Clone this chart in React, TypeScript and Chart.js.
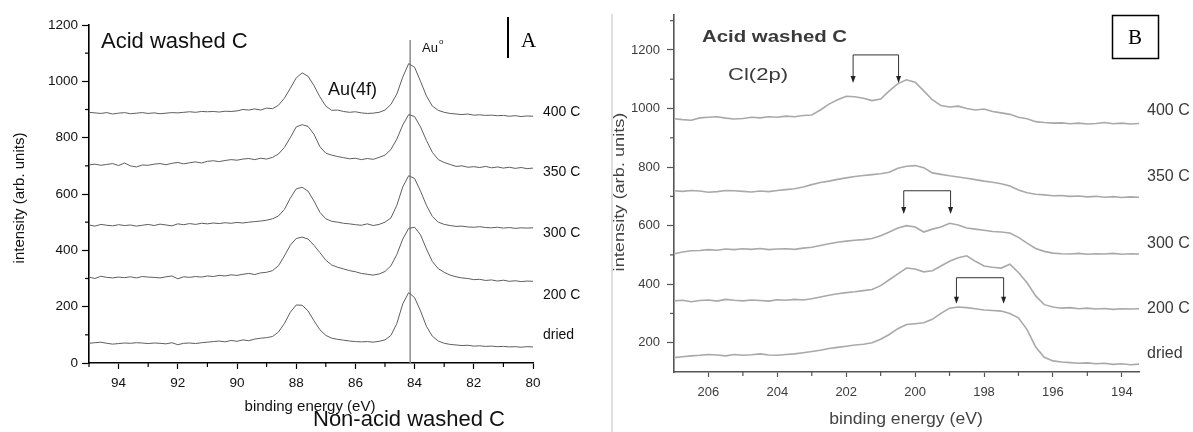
import React, { useEffect, useRef } from "react";
import { Chart, registerables } from "chart.js";

Chart.register(...registerables);

const SANS = '"Liberation Sans", Arial, sans-serif';
const SERIF = '"Liberation Serif", "Times New Roman", serif';

// ---------------- Panel A : Au(4f) ----------------
const energyA = [
  95, 94.8, 94.6, 94.4, 94.2, 94, 93.8, 93.6, 93.4, 93.2,
  93, 92.8, 92.6, 92.4, 92.2, 92, 91.8, 91.6, 91.4, 91.2,
  91, 90.8, 90.6, 90.4, 90.2, 90, 89.8, 89.6, 89.4, 89.2,
  89, 88.8, 88.6, 88.4, 88.2, 88, 87.8, 87.6, 87.4, 87.2,
  87, 86.8, 86.6, 86.4, 86.2, 86, 85.8, 85.6, 85.4, 85.2,
  85, 84.8, 84.6, 84.4, 84.2, 84, 83.8, 83.6, 83.4, 83.2,
  83, 82.8, 82.6, 82.4, 82.2, 82, 81.8, 81.6, 81.4, 81.2,
  81, 80.8, 80.6, 80.4, 80.2, 80,
];
const au400 = [
  890, 888, 886, 889, 884, 887, 889, 885, 887, 889,
  886, 888, 885, 887, 889, 888, 890, 892, 890, 893,
  892, 893, 891, 894, 893, 895, 900, 898, 902, 898,
  905, 903, 915, 940, 975, 1012, 1030, 1018, 985, 945,
  912, 897, 898, 893, 890, 892, 888, 886, 887, 890,
  898, 918, 955, 1015, 1063, 1050, 1000, 948, 912, 897,
  890, 886, 884, 882, 884, 880, 881, 879, 880, 878,
  879, 876, 878, 875, 877, 876,
];
const au350 = [
  703, 706, 702, 705, 708, 701, 710, 700, 696, 703,
  702, 706, 708, 704, 709, 712, 707, 711, 714, 710,
  716, 718, 715, 719, 722, 720, 724, 726, 722, 727,
  724, 730, 742, 765, 800, 838, 846, 840, 812, 768,
  745, 738, 733, 729, 725, 727, 722, 726, 723, 730,
  738, 758, 795, 845, 882, 875, 838, 790, 748, 722,
  712, 705, 698, 700, 695, 697, 694, 698, 693, 696,
  692, 695, 691, 694, 690, 692,
];
const au300 = [
  490, 486, 492, 489, 487, 491, 488, 490, 486, 489,
  492, 488, 493, 490, 487, 494, 491, 495, 492, 496,
  494, 497, 495, 498, 496, 499, 497, 500, 502, 504,
  507, 512, 522, 545, 585, 618, 624, 610, 575, 535,
  512, 503, 500, 496, 494, 491, 489, 494, 488, 492,
  500, 515, 560, 625, 665, 655, 610, 560, 520, 500,
  492, 488, 485, 486, 483, 482, 484, 481, 480, 482,
  479, 481, 478, 480, 479, 480,
];
const au200 = [
  305, 300, 308, 304, 302, 305, 303, 306, 302, 307,
  305, 304, 302, 306, 309, 299, 306, 304, 307, 305,
  309, 307, 311, 309, 313, 311, 315, 318, 314, 320,
  322, 328, 345, 380, 418, 442, 447, 440, 418, 392,
  365, 348, 340, 334, 328, 324, 318, 315, 312, 316,
  325, 345, 385, 440, 478, 482, 455, 405, 360, 335,
  322, 312, 306, 302, 300, 296, 297, 293, 295, 291,
  294, 290, 292, 289, 291, 290,
];
const auDried = [
  70, 72, 74, 70, 67, 69, 71, 70, 72, 71,
  69, 71, 70, 68, 72, 65, 70, 71, 69, 72,
  74, 76, 78, 75, 80, 77, 82, 79, 85, 88,
  90, 94, 110, 140, 180, 206, 205, 185, 150, 118,
  98, 88, 84, 81, 78, 76, 75, 76, 74, 77,
  82, 98, 140, 210, 250, 232, 185, 130, 95, 78,
  70, 66, 64, 62, 63, 60, 61, 59, 60, 58,
  59, 57, 58, 56, 58, 57,
];
const seriesNamesA = ["400 C", "350 C", "300 C", "200 C", "dried"];
const seriesLevelsA = [891, 678, 461, 241, 99];
const yTicksA = [0, 200, 400, 600, 800, 1000, 1200];
const yMinorA = [100, 300, 500, 700, 900, 1100];
const xTicksA = [94, 92, 90, 88, 86, 84, 82, 80];
const xMinorA = [95, 93, 91, 89, 87, 85, 83, 81];
const auRefEnergy = 84.15;
const auRefTop = 1147;

// ---------------- Panel B : Cl(2p) ----------------
const energyB = [
  207, 206.75, 206.5, 206.25, 206, 205.75, 205.5, 205.25, 205, 204.75,
  204.5, 204.25, 204, 203.75, 203.5, 203.25, 203, 202.75, 202.5, 202.25,
  202, 201.75, 201.5, 201.25, 201, 200.75, 200.5, 200.25, 200, 199.75,
  199.5, 199.25, 199, 198.75, 198.5, 198.25, 198, 197.75, 197.5, 197.25,
  197, 196.75, 196.5, 196.25, 196, 195.75, 195.5, 195.25, 195, 194.75,
  194.5, 194.25, 194, 193.75, 193.5,
];
const cl400 = [
  965, 962, 960, 968, 970, 972, 967, 964, 966, 970,
  968, 972, 970, 974, 972, 976, 978, 995, 1015, 1030,
  1042, 1040, 1035, 1027, 1032, 1060, 1085, 1098, 1090, 1060,
  1030, 1010, 1005, 1008, 1000, 995, 998, 990, 985, 980,
  970, 965, 955, 952, 950, 951, 948, 950, 947, 949,
  952, 948, 950, 947, 949,
];
const cl350 = [
  719, 717, 720, 718, 714, 716, 720, 719, 717, 715,
  718, 716, 720, 723, 726, 732, 740, 747, 752, 758,
  763, 768, 771, 774, 777, 782, 796, 803, 805, 798,
  780, 775, 770, 766, 762, 757, 752, 748, 743, 735,
  722, 712, 707, 705, 702, 703, 700, 701, 698, 700,
  697, 699, 696, 698, 697,
];
const cl300 = [
  504, 510, 514, 515, 518, 516, 520, 518, 521, 519,
  522, 518, 520, 521, 519, 523, 526, 532, 538, 543,
  547, 550, 552, 556, 565, 578, 592, 600, 595, 578,
  588, 595, 608, 602, 592, 588, 584, 580, 578, 575,
  560, 540, 522, 512, 506, 504, 503, 505, 502, 504,
  503, 505, 502, 504, 503,
];
const cl200 = [
  343, 345, 340, 344, 346, 342, 348, 345, 343, 346,
  344, 342, 347, 345, 348, 346, 350, 356, 362, 367,
  371, 374, 378, 382, 395, 415, 435, 455, 452, 442,
  446, 462, 478, 490, 497, 478, 462, 458, 455, 468,
  440, 405, 360, 330, 322, 318, 320, 316, 318, 315,
  317, 314, 316, 315, 316,
];
const clDried = [
  149, 152, 155, 157, 160, 158, 155, 160, 157, 159,
  162, 158, 157, 160, 162, 166, 170, 174, 180, 184,
  188, 192, 195, 200, 212, 228, 248, 262, 265, 268,
  280, 300, 318, 322, 320, 316, 312, 310, 308, 300,
  285, 245, 185, 150, 138, 134, 132, 130, 131, 128,
  130, 126, 128, 125, 127,
];
const seriesNamesB = ["400 C", "350 C", "300 C", "200 C", "dried"];
const seriesLevelsB = [992, 767, 538, 316, 162];
const yTicksB = [200, 400, 600, 800, 1000, 1200];
const yMinorB = [300, 500, 700, 900, 1100, 1300];
const xTicksB = [206, 204, 202, 200, 198, 196, 194];
const xMinorB = [205, 203, 201, 199, 197, 195];
// doublet markers: [left energy, right energy, bracket level, arrow tip level]
const bracketLeftB = [201.8, 200.33, 198.8];
const bracketRightB = [200.48, 198.97, 197.43];
const bracketTopB = [1183, 719, 422];
const bracketTipB = [1087, 640, 333];

function pts(xs: number[], ys: number[]) {
  return xs.map((x, i) => ({ x, y: ys[i] }));
}

function txt(
  ctx: CanvasRenderingContext2D,
  s: string,
  x: number,
  y: number,
  font: string,
  color: string,
  align: CanvasTextAlign = "left",
  sx = 1,
  rot = 0
) {
  ctx.save();
  ctx.translate(x, y);
  if (rot) ctx.rotate(rot);
  ctx.scale(sx, 1);
  ctx.font = font;
  ctx.fillStyle = color;
  ctx.textAlign = align;
  ctx.textBaseline = "middle";
  ctx.fillText(s, 0, 0);
  ctx.restore();
}

function minorTicks(ctx: CanvasRenderingContext2D, chart: any, xs: number[], ys: number[], color: string, len: number) {
  const { x, y } = chart.scales;
  const ca = chart.chartArea;
  ctx.save();
  ctx.strokeStyle = color;
  ctx.lineWidth = 1.2;
  ys.forEach((v) => {
    const py = y.getPixelForValue(v);
    ctx.beginPath();
    ctx.moveTo(ca.left - len, py);
    ctx.lineTo(ca.left, py);
    ctx.stroke();
  });
  xs.forEach((v) => {
    const px = x.getPixelForValue(v);
    ctx.beginPath();
    ctx.moveTo(px, ca.bottom);
    ctx.lineTo(px, ca.bottom + len);
    ctx.stroke();
  });
  ctx.restore();
}

const annotA = {
  id: "annotA",
  beforeDatasetsDraw(chart: any) {
    const { ctx } = chart;
    const { x, y } = chart.scales;
    const px = x.getPixelForValue(auRefEnergy);
    ctx.save();
    ctx.strokeStyle = "#8c8c8c";
    ctx.lineWidth = 1.5;
    ctx.beginPath();
    ctx.moveTo(px, y.getPixelForValue(auRefTop));
    ctx.lineTo(px, chart.chartArea.bottom);
    ctx.stroke();
    ctx.restore();
  },
  afterDraw(chart: any) {
    const { ctx } = chart;
    const { y } = chart.scales;
    const ca = chart.chartArea;
    minorTicks(ctx, chart, xMinorA, yMinorA, "#000", 4);
    seriesNamesA.forEach((n, i) => {
      txt(ctx, n, ca.right + 10, y.getPixelForValue(seriesLevelsA[i]), `14px ${SANS}`, "#111");
    });
    txt(ctx, "Acid washed C", 101, 42, `22px ${SANS}`, "#111");
    txt(ctx, "Au(4f)", 328, 90, `18px ${SANS}`, "#111");
    txt(ctx, "Au", 422, 48, `13px ${SANS}`, "#111");
    txt(ctx, "o", 439, 42, `8px ${SANS}`, "#111");
    ctx.save();
    ctx.fillStyle = "#000";
    ctx.fillRect(507, 17, 2, 41);
    ctx.restore();
    txt(ctx, "A", 521, 41, `21px ${SERIF}`, "#000");
    txt(ctx, "intensity (arb. units)", 20, 198, `15px ${SANS}`, "#111", "center", 1, -Math.PI / 2);
    txt(ctx, "binding energy (eV)", 310, 407, `15px ${SANS}`, "#111", "center");
    txt(ctx, "Non-acid washed C", 313, 420, `22px ${SANS}`, "#111", "left");
  },
};

const annotB = {
  id: "annotB",
  afterDraw(chart: any) {
    const { ctx } = chart;
    const { x, y } = chart.scales;
    const ca = chart.chartArea;
    // left border of panel
    ctx.save();
    ctx.strokeStyle = "#d4d4d4";
    ctx.lineWidth = 1.5;
    ctx.beginPath();
    ctx.moveTo(22, 14);
    ctx.lineTo(22, 432);
    ctx.stroke();
    ctx.restore();
    minorTicks(ctx, chart, xMinorB, yMinorB, "#555", 4);
    // doublet brackets
    ctx.save();
    ctx.strokeStyle = "#333";
    ctx.fillStyle = "#222";
    ctx.lineWidth = 1;
    bracketLeftB.forEach((e1, i) => {
      const x1 = x.getPixelForValue(e1);
      const x2 = x.getPixelForValue(bracketRightB[i]);
      const yt = y.getPixelForValue(bracketTopB[i]);
      const yb = y.getPixelForValue(bracketTipB[i]);
      ctx.beginPath();
      ctx.moveTo(x1, yb - 5);
      ctx.lineTo(x1, yt);
      ctx.lineTo(x2, yt);
      ctx.lineTo(x2, yb - 5);
      ctx.stroke();
      [x1, x2].forEach((xx) => {
        ctx.beginPath();
        ctx.moveTo(xx, yb);
        ctx.lineTo(xx - 2.5, yb - 7);
        ctx.lineTo(xx + 2.5, yb - 7);
        ctx.closePath();
        ctx.fill();
      });
    });
    ctx.restore();
    seriesNamesB.forEach((n, i) => {
      txt(ctx, n, ca.right + 8, y.getPixelForValue(seriesLevelsB[i]), `16px ${SANS}`, "#3a3a3a");
    });
    txt(ctx, "Acid washed C", 112, 37, `bold 17px ${SANS}`, "#3a3a3a", "left", 1.2);
    txt(ctx, "Cl(2p)", 138, 75, `17px ${SANS}`, "#3a3a3a", "left", 1.3);
    ctx.save();
    ctx.strokeStyle = "#000";
    ctx.lineWidth = 1.5;
    ctx.strokeRect(522.5, 15.5, 46, 43);
    ctx.restore();
    txt(ctx, "B", 545, 38, `21px ${SERIF}`, "#000", "center");
    txt(ctx, "intensity (arb. units)", 30, 192, `14px ${SANS}`, "#444", "center", 1.3, -Math.PI / 2);
    txt(ctx, "binding energy (eV)", 316, 420, `16px ${SANS}`, "#444", "center", 1.1);
  },
};

function axisOpts(opts: any) {
  return {
    type: "linear",
    min: opts.min,
    max: opts.max,
    reverse: !!opts.reverse,
    afterBuildTicks: (s: any) => {
      s.ticks = opts.ticks.map((v: number) => ({ value: v }));
    },
    afterFit: opts.afterFit,
    grid: {
      drawOnChartArea: false,
      drawTicks: true,
      tickLength: opts.tickLength,
      color: opts.color,
      tickColor: opts.color,
      tickWidth: 1.2,
    },
    border: { display: true, color: opts.color, width: 1.6 },
    ticks: {
      autoSkip: false,
      maxRotation: 0,
      padding: opts.padding,
      color: opts.labelColor,
      font: { family: SANS, size: opts.fontSize || 13 },
      callback: (v: any) => String(v),
    },
  };
}

export default function App() {
  const refA = useRef<HTMLCanvasElement>(null);
  const refB = useRef<HTMLCanvasElement>(null);

  useEffect(() => {
    const seriesA = [au400, au350, au300, au200, auDried];
    const seriesB = [cl400, cl350, cl300, cl200, clDried];
    const chartA = new Chart(refA.current as HTMLCanvasElement, {
      type: "line",
      data: {
        datasets: seriesA.map((s, i) => ({
          label: seriesNamesA[i],
          data: pts(energyA, s),
          borderColor: "#5e5e5e",
          borderWidth: 1,
          pointRadius: 0,
          tension: 0,
          fill: false,
        })),
      },
      options: {
        animation: false,
        responsive: false,
        devicePixelRatio: 1,
        events: [],
        layout: { padding: { top: 25, right: 57, left: 0, bottom: 0 } },
        plugins: { legend: { display: false }, tooltip: { enabled: false } },
        scales: {
          x: axisOpts({
            min: 80, max: 95, reverse: true, ticks: xTicksA, tickLength: 6, padding: 6,
            color: "#000", labelColor: "#111", fontSize: 13.5,
            afterFit: (s: any) => { s.height = 69; },
          }),
          y: axisOpts({
            min: 0, max: 1200, ticks: yTicksA, tickLength: 7, padding: 4,
            color: "#000", labelColor: "#111", fontSize: 13.5,
            afterFit: (s: any) => { s.width = 89; },
          }),
        },
      } as any,
      plugins: [annotA],
    } as any);

    const chartB = new Chart(refB.current as HTMLCanvasElement, {
      type: "line",
      data: {
        datasets: seriesB.map((s, i) => ({
          label: seriesNamesB[i],
          data: pts(energyB, s),
          borderColor: "#a9a9a9",
          borderWidth: 1.6,
          pointRadius: 0,
          tension: 0,
          fill: false,
        })),
      },
      options: {
        animation: false,
        responsive: false,
        devicePixelRatio: 1,
        events: [],
        layout: { padding: { top: 13, right: 54, left: 0, bottom: 0 } },
        plugins: { legend: { display: false }, tooltip: { enabled: false } },
        scales: {
          x: axisOpts({
            min: 193.5, max: 207, reverse: true, ticks: xTicksB, tickLength: 5, padding: 8,
            color: "#555", labelColor: "#3c3c3c",
            afterFit: (s: any) => { s.height = 60; },
          }),
          y: axisOpts({
            min: 100, max: 1320, ticks: yTicksB, tickLength: 7, padding: 7,
            color: "#555", labelColor: "#3c3c3c",
            afterFit: (s: any) => { s.width = 84; },
          }),
        },
      } as any,
      plugins: [annotB],
    } as any);

    return () => {
      chartA.destroy();
      chartB.destroy();
    };
  }, []);

  return (
    <div style={{ position: "absolute", left: 0, top: 0, width: 1193, height: 432, background: "#fff", overflow: "hidden" }}>
      <canvas ref={refA} width={590} height={432} style={{ position: "absolute", left: 0, top: 0, width: 590, height: 432 }} />
      <canvas ref={refB} width={603} height={432} style={{ position: "absolute", left: 590, top: 0, width: 603, height: 432 }} />
    </div>
  );
}
